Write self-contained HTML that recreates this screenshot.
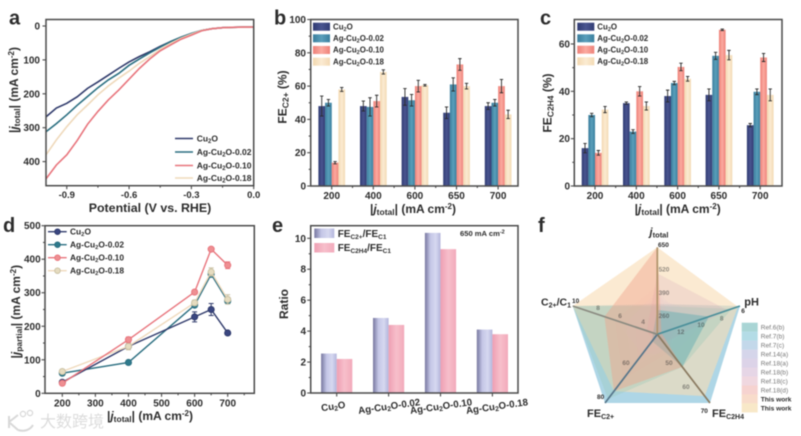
<!DOCTYPE html>
<html lang="en"><head><meta charset="utf-8"><title>Ag-Cu2O electrocatalysis figure</title>
<style>
html,body{margin:0;padding:0;background:#fff;width:801px;height:436px;overflow:hidden}
svg{display:block;filter:blur(0.6px)}
text{font-family:"Liberation Sans","Noto Sans CJK SC",sans-serif;font-weight:bold;fill:#2c2c2c}
</style></head><body>
<svg id="fig" width="801" height="436" viewBox="0 0 801 436" xmlns="http://www.w3.org/2000/svg">
<defs>
<linearGradient id="g0"><stop offset="0" stop-color="#2f3a72"/><stop offset=".5" stop-color="#4a5590"/><stop offset="1" stop-color="#323d75"/></linearGradient>
<linearGradient id="g1"><stop offset="0" stop-color="#3a7d9c"/><stop offset=".5" stop-color="#5a9fbb"/><stop offset="1" stop-color="#3a7f9e"/></linearGradient>
<linearGradient id="g2"><stop offset="0" stop-color="#ee8078"/><stop offset=".5" stop-color="#fbaaa0"/><stop offset="1" stop-color="#ee8279"/></linearGradient>
<linearGradient id="g3"><stop offset="0" stop-color="#f3d8b0"/><stop offset=".5" stop-color="#fbebd2"/><stop offset="1" stop-color="#f3dab4"/></linearGradient>
<linearGradient id="e0"><stop offset="0" stop-color="#77779f"/><stop offset=".35" stop-color="#c4c6e6"/><stop offset=".7" stop-color="#d6d8f0"/><stop offset="1" stop-color="#b4b6dc"/></linearGradient>
<linearGradient id="e1"><stop offset="0" stop-color="#ee9fb3"/><stop offset=".5" stop-color="#f7bfcb"/><stop offset="1" stop-color="#f2aabb"/></linearGradient>
</defs>
<g id="layer"></g>
</svg>
<script>
// ---------- shared ----------
const seriesNames = ['Cu2O', 'Ag-Cu2O-0.02', 'Ag-Cu2O-0.10', 'Ag-Cu2O-0.18'];
// ---------- panel a ----------
const potentials = [-1, -0.95, -0.9, -0.85, -0.8, -0.75, -0.7, -0.65, -0.6, -0.55, -0.5, -0.45, -0.4, -0.35, -0.3, -0.25, -0.2, -0.15, -0.1, -0.05, 0];
const aCu2O = [268, 242, 228, 209, 184, 165, 145, 125, 106, 90, 76, 60, 46, 33, 22, 13, 8, 5, 4, 3, 3];
const aAg02 = [312, 288, 262, 234, 208, 182, 159, 140, 116, 97, 79, 62, 46, 33, 22, 13, 8, 5, 4, 3, 3];
const aAg10 = [451, 410, 380, 338, 290, 252, 218, 189, 157, 125, 97, 73, 56, 39, 27, 14, 8, 5, 4, 3, 3];
const aAg18 = [380, 336, 297, 262, 233, 203, 177, 154, 133, 110, 90, 69, 51, 36, 24, 13, 8, 5, 4, 3, 3];
const aXTicks = [-0.9, -0.6, -0.3, 0];
const aXTickLabels = ['-0.9', '-0.6', '-0.3', '0.0'];
const aYTicks = [0, 100, 200, 300, 400];
// ---------- panel b ----------
const currents = ['200', '400', '600', '650', '700'];
const bValues = [[48, 48, 53.5, 44, 48], [50, 47.5, 51.5, 61, 50], [14, 51, 60, 73, 60], [58, 68.5, 60.5, 60, 43]];
const bErrors = [[6, 3, 5, 3.5, 2], [2, 5.5, 3.5, 4, 2], [0.7, 3.5, 3.5, 3.5, 4], [1.2, 1.3, 0.5, 1.7, 2.5]];
const bYTicks = [0, 20, 40, 60, 80, 100];
// ---------- panel c ----------
const cValues = [[16, 35, 38, 38.5, 25.7], [30, 23, 43.5, 55, 39.8], [14, 40, 50.3, 66, 54.3], [32.3, 33.8, 45.3, 55.3, 38.5]];
const cErrors = [[2, 0.5, 2.5, 2.5, 0.7], [0.7, 0.8, 0.7, 1.5, 1.2], [1, 2, 1.6, 0.3, 1.7], [1.3, 1.7, 1, 2, 2.5]];
const cYTicks = [0, 20, 40, 60];
// ---------- panel d ----------
const dX = [200, 400, 600, 650, 700];
const dValues = [[33, 140, 228, 250, 180], [60, 92, 263, 355, 275], [30, 160, 302, 430, 382], [65, 140, 270, 362, 280]];
const dErrors = [[3, 5, 15, 18, 4], [3, 5, 6, 8, 6], [3, 8, 6, 4, 10], [3, 10, 8, 12, 14]];
const dXTicks = [200, 300, 400, 500, 600, 700];
const dYTicks = [0, 100, 200, 300, 400, 500];
// ---------- panel e ----------
const eCategories = ['Cu2O', 'Ag-Cu2O-0.02', 'Ag-Cu2O-0.10', 'Ag-Cu2O-0.18'];
const eC2 = [2.55, 4.85, 10.35, 4.1];
const eC2H4 = [2.2, 4.4, 9.3, 3.8];
const eYTicks = [0, 2, 4, 6, 8, 10];
// ---------- panel f: axes are j, pH, FE C2H4, FE C2+, C2+/C1 ----------
const radarInner = [130, 14, 30, 45, 2];
const radarOuter = [650, 6, 70, 80, 10];
const radarNames = ['Ref.6(b)', 'Ref.7(b)', 'Ref.7(c)', 'Ref.14(a)', 'Ref.18(a)', 'Ref.18(b)', 'Ref.18(c)', 'Ref.18(d)', 'This work', 'This work'];
const radarRef6b = [310, 6, 70, 80, 10];
const radarRef7b = [276, 9, 49, 48.5, 2.4];
const radarRef7c = [300, 6.8, 49, 78, 10];
const radarRef14a = [345, 9, 42, 55, 6];
const radarRef18a = [494, 7.2, 35, 48, 3];
const radarRef18b = [390, 11, 38, 62, 5];
const radarRef18c = [300, 12, 36, 58, 4];
const radarRef18d = [420, 12.5, 40, 68, 6];
const radarWorkA = [650, 13.6, 49, 74, 7];
const radarWorkB = [650, 6.2, 66, 74, 10];
const radarTicks = [['520', '390', '260'], ['12', '10', '8'], ['60', '50'], ['60'], ['8', '6', '4']];

const NS = 'http://www.w3.org/2000/svg';
const root = document.getElementById('layer');
function make(tag, attrs, name, parent) {
  const el = document.createElementNS(NS, tag);
  for (const k in attrs) el.setAttribute(k, attrs[k]);
  
  
  (parent || root).appendChild(el);
  return el;
}
function chem(s) {
  return s.replace('Cu2O', 'Cu<tspan dy="1.5" font-size="70%">2</tspan><tspan dy="-1.5">O</tspan>');
}
function label(x, y, html, size, anchor, name, rot, parent) {
  const attrs = { x: x, y: y, 'font-size': size, 'text-anchor': anchor || 'start' };
  if (rot) attrs.transform = 'rotate(' + rot + ' ' + x + ' ' + y + ')';
  const t = make('text', attrs, name, parent);
  t.innerHTML = html;
  return t;
}
function frame(x0, x1, y0, y1, name) {
  make('rect', { x: x0, y: y0, width: x1 - x0, height: y1 - y0, fill: 'none', stroke: '#4a4a4a', 'stroke-width': 1.5 }, name);
}
function tick(x1, y1, x2, y2, name) {
  make('line', { x1: x1, y1: y1, x2: x2, y2: y2, stroke: '#4a4a4a', 'stroke-width': 1.1 }, name);
}
function yAxis(ticks, sy, x0, right, name, minor) {
  ticks.forEach((v, i) => {
    tick(x0, sy(v), x0 - 3.5, sy(v), name + '-tick');
    label(right, sy(v) + 3.5, String(v), 10, 'end', name + '-label');
    if (minor && i < ticks.length - 1) tick(x0, sy((v + ticks[i + 1]) / 2), x0 - 2, sy((v + ticks[i + 1]) / 2), name + '-minor-tick');
  });
}
const barColors = ['url(#g0)', 'url(#g1)', 'url(#g2)', 'url(#g3)'];
const lineColors = ['#2f3a6b', '#2a6e80', '#e8747c', '#efd9bb'];

// ---------- panel a draw ----------
(function () {
  const x0 = 46, x1 = 253.7, y0 = 19.5, y1 = 185.7;
  const sx = v => 253.7 + v * 207.7;
  const sy = v => 26 + v * 0.339;
  [aCu2O, aAg02, aAg18, aAg10].forEach((vals, i) => {
    const order = [0, 1, 3, 2][i];
    const pts = potentials.map((p, k) => sx(p) + ',' + sy(vals[k])).join(' ');
    make('polyline', { points: pts, fill: 'none', stroke: lineColors[order], 'stroke-width': 1.6 }, 'lsv-curve');
  });
  frame(x0, x1, y0, y1, 'lsv-plot-frame');
  aXTicks.forEach((v, i) => {
    tick(sx(v), y1, sx(v), y1 + 3.5, 'x-tick');
    label(sx(v), 198, aXTickLabels[i], 9.5, 'middle', 'x-tick-label');
    if (v < 0) tick(sx(v + 0.15), y1, sx(v + 0.15), y1 + 2, 'x-minor-tick');
  });
  yAxis(aYTicks, sy, x0, 40, 'y-tick', false);
  label(150, 212, 'Potential (V vs. RHE)', 12.4, 'middle', 'x-axis-title');
  label(18, 90, '|<tspan font-style="italic">j</tspan><tspan dy="2" font-size="8.5">total</tspan><tspan dy="-2">| (mA cm</tspan><tspan dy="-4" font-size="8">-2</tspan><tspan dy="4">)</tspan>', 12, 'middle', 'y-axis-title', -90);
  const ly = [138.5, 152, 165.5, 178];
  seriesNames.forEach((n, i) => {
    make('line', { x1: 175, x2: 193, y1: ly[i], y2: ly[i], stroke: lineColors[i], 'stroke-width': 1.6 }, 'legend-line');
    label(196.7, ly[i] + 2.8, chem(n), 8.5, 'start', 'legend-entry');
  });
  label(9, 24.5, 'a', 20, 'start', 'panel-label-a');
})();

// ---------- grouped bars b, c ----------
function groupedBars(cfg) {
  const { x0, x1, y0, y1, c0, step, vals, errs, sy, yTicks, right } = cfg;
  vals.forEach((series, s) => {
    series.forEach((v, c) => {
      const cx = c0 + c * step;
      const bx = cx - 13.3 + s * 6.67;
      make('rect', { x: bx, y: sy(v), width: 6.67, height: y1 - sy(v), fill: barColors[s] }, 'bar-' + seriesNames[s].toLowerCase());
      const mid = bx + 3.33, t = sy(v + errs[s][c]), b = sy(v - errs[s][c]);
      make('path', { d: 'M' + mid + ' ' + t + 'V' + b + 'M' + (mid - 1.7) + ' ' + t + 'H' + (mid + 1.7) + 'M' + (mid - 1.7) + ' ' + b + 'H' + (mid + 1.7), fill: 'none', stroke: '#2a2a2a', 'stroke-width': 0.9 }, 'error-bar');
    });
  });
  frame(x0, x1, y0, y1, 'bar-plot-frame');
  currents.forEach((lab, c) => {
    const cx = c0 + c * step;
    tick(cx, y1, cx, y1 + 3.5, 'x-tick');
    label(cx, 199, lab, 10, 'middle', 'x-tick-label');
    if (c < currents.length - 1) tick(cx + step / 2, y1, cx + step / 2, y1 + 2, 'x-minor-tick');
  });
  yAxis(yTicks, sy, x0, right, 'y-tick', true);
  const ly = cfg.ly;
  seriesNames.forEach((n, i) => {
    make('rect', { x: cfg.lx, y: ly[i] - 4, width: 17, height: 8, fill: barColors[i] }, 'legend-swatch');
    label(cfg.lx + 20, ly[i] + 2.6, chem(n), 7.9, 'start', 'legend-entry');
  });
}
const totalLabel = '|<tspan font-style="italic">j</tspan><tspan dy="2" font-size="8.5">total</tspan><tspan dy="-2">| (mA cm</tspan><tspan dy="-4" font-size="8">-2</tspan><tspan dy="4">)</tspan>';
groupedBars({ x0: 310.7, x1: 518, y0: 19.5, y1: 186, c0: 331.7, step: 41.6, vals: bValues, errs: bErrors, sy: v => 186 - v * 1.665, yTicks: bYTicks, right: 306, lx: 313, ly: [26.7, 38.3, 50, 61.7] });
label(413, 213, totalLabel, 12, 'middle', 'x-axis-title');
label(286.7, 97, 'FE<tspan dy="2" font-size="8.5">C2+</tspan><tspan dy="-2"> (%)</tspan>', 12, 'middle', 'y-axis-title', -90);
label(274, 24.5, 'b', 20, 'start', 'panel-label-b');
groupedBars({ x0: 574.3, x1: 782, y0: 19.5, y1: 186, c0: 595, step: 41.3, vals: cValues, errs: cErrors, sy: v => 186 - v * 2.367, yTicks: cYTicks, right: 570, lx: 577.3, ly: [26.7, 38.3, 49.7, 61.3] });
label(677.7, 213, totalLabel, 12, 'middle', 'x-axis-title');
label(551.7, 103, 'FE<tspan dy="2" font-size="8.5">C2H4</tspan><tspan dy="-2"> (%)</tspan>', 12, 'middle', 'y-axis-title', -90);
label(540, 24.5, 'c', 20, 'start', 'panel-label-c');

// ---------- panel d draw ----------
(function () {
  const x0 = 45, x1 = 254.3, y0 = 225.7, y1 = 393.3;
  const sx = v => 62.3 + (v - 200) * 0.3308;
  const sy = v => 393.3 - v * 0.3352;
  const dotFill = ['#3a4680', '#2f7a8c', '#ee8f92', '#e6dcc0'];
  const dotEdge = ['#2f3a6b', '#2a6e80', '#e8747c', '#c9c0a2'];
  [1, 0, 3, 2].forEach(s => {
    const pts = dX.map((v, k) => sx(v) + ',' + sy(dValues[s][k])).join(' ');
    make('polyline', { points: pts, fill: 'none', stroke: lineColors[s], 'stroke-width': 1.4 }, 'series-line-' + seriesNames[s].toLowerCase());
    dX.forEach((v, k) => {
      const cx = sx(v), t = sy(dValues[s][k] + dErrors[s][k]), b = sy(dValues[s][k] - dErrors[s][k]);
      make('path', { d: 'M' + cx + ' ' + t + 'V' + b + 'M' + (cx - 2.5) + ' ' + t + 'H' + (cx + 2.5) + 'M' + (cx - 2.5) + ' ' + b + 'H' + (cx + 2.5), fill: 'none', stroke: dotEdge[s], 'stroke-width': 1 }, 'error-bar');
      make('circle', { cx: cx, cy: sy(dValues[s][k]), r: 3.1, fill: dotFill[s], stroke: dotEdge[s], 'stroke-width': 0.9 }, 'data-point');
    });
  });
  frame(x0, x1, y0, y1, 'partial-plot-frame');
  dXTicks.forEach(v => {
    tick(sx(v), y1, sx(v), y1 + 3.5, 'x-tick');
    label(sx(v), 406.7, String(v), 10, 'middle', 'x-tick-label');
    tick(sx(v + 50), y1, sx(v + 50), y1 + 2, 'x-minor-tick');
  });
  yAxis(dYTicks, sy, x0, 40.7, 'y-tick', true);
  label(150, 420, totalLabel, 12, 'middle', 'x-axis-title');
  label(20, 311.7, '|<tspan font-style="italic">j</tspan><tspan dy="2" font-size="8.5">partial</tspan><tspan dy="-2">| (mA cm</tspan><tspan dy="-4" font-size="8">-2</tspan><tspan dy="4">)</tspan>', 12, 'middle', 'y-axis-title', -90);
  const ly = [231.7, 244.7, 257.7, 270.7];
  seriesNames.forEach((n, i) => {
    make('line', { x1: 48, x2: 66.7, y1: ly[i], y2: ly[i], stroke: lineColors[i], 'stroke-width': 1.3 }, 'legend-line');
    make('circle', { cx: 57.5, cy: ly[i], r: 2.8, fill: dotFill[i], stroke: dotEdge[i], 'stroke-width': 0.9 }, 'legend-marker');
    label(70, ly[i] + 2.8, chem(n), 8.4, 'start', 'legend-entry');
  });
  label(3, 232, 'd', 20, 'start', 'panel-label-d');
})();

// ---------- panel e draw ----------
(function () {
  const x0 = 310.7, x1 = 518, y0 = 225.7, y1 = 393;
  const sy = v => 393 - v * 15.47;
  const centers = k => 336.7 + k * 51.9;
  eCategories.forEach((c, k) => {
    const cx = centers(k);
    make('rect', { x: cx - 15.6, y: sy(eC2[k]), width: 15.6, height: y1 - sy(eC2[k]), fill: 'url(#e0)' }, 'bar-c2-ratio');
    make('rect', { x: cx, y: sy(eC2H4[k]), width: 15.6, height: y1 - sy(eC2H4[k]), fill: 'url(#e1)' }, 'bar-c2h4-ratio');
    tick(cx, y1, cx, y1 + 3.5, 'x-tick');
    const lx = centers(k) - (k === 0 ? 3 : k === 1 ? -1 : k === 2 ? -1 : -5);
    label(lx, 409.5, chem(c), 9.7, 'middle', 'x-tick-label', -8);
  });
  frame(x0, x1, y0, y1, 'ratio-plot-frame');
  yAxis(eYTicks, sy, x0, 306, 'y-tick', true);
  label(288, 304, 'Ratio', 12, 'middle', 'y-axis-title', -90);
  make('rect', { x: 314.3, y: 228.5, width: 20, height: 9.5, fill: 'url(#e0)' }, 'legend-swatch');
  make('rect', { x: 314.3, y: 243, width: 20, height: 9.5, fill: 'url(#e1)' }, 'legend-swatch');
  label(337.7, 237, 'FE<tspan dy="2" font-size="6.5">C2+</tspan><tspan dy="-2">/FE</tspan><tspan dy="2" font-size="6.5">C1</tspan>', 10, 'start', 'legend-entry');
  label(337.7, 251, 'FE<tspan dy="2" font-size="6.5">C2H4</tspan><tspan dy="-2">/FE</tspan><tspan dy="2" font-size="6.5">C1</tspan>', 10, 'start', 'legend-entry');
  label(460, 236, '650 mA cm<tspan dy="-2.5" font-size="5.5">-2</tspan>', 7.6, 'start', 'current-density-note');
  label(272, 232, 'e', 20, 'start', 'panel-label-e');
})();

// ---------- panel f draw ----------
(function () {
  const cx = 657.3, cy = 334.3;
  const ends = [[657.3, 247.3], [740, 306], [710, 403], [605, 403], [572.7, 306]];
  const frac = (a, v) => (v - radarInner[a]) / (radarOuter[a] - radarInner[a]);
  const pt = (a, v) => {
    const f = frac(a, v);
    return [cx + (ends[a][0] - cx) * f, cy + (ends[a][1] - cy) * f];
  };
  const series = [radarRef6b, radarWorkB, radarRef7c, radarRef14a, radarRef18b, radarRef18c, radarRef18d, radarRef18a, radarRef7b, radarWorkA];
  const fills = ['#aed6e6', '#f9dcb4', '#9cc8b8', '#c9c9e4', '#d8c8e0', '#e8c0d0', '#f0b8b0', '#d8a8b8', '#6fb0b4', '#f0a088'];
  const opac = [1, 0.6, 0.35, 0.08, 0.08, 0.08, 0.08, 0.25, 0.55, 0.42];
  series.forEach((vals, i) => {
    const pts = vals.map((v, a) => pt(a, v).join(',')).join(' ');
    make('polygon', { points: pts, fill: fills[i], 'fill-opacity': opac[i] }, 'radar-polygon');
  });
  const axisColors = ['#b0936a', '#4a8f9a', '#8a7a60', '#55758a', '#8a8a80'];
  ends.forEach((e, a) => {
    make('line', { x1: cx, y1: cy, x2: e[0], y2: e[1], stroke: axisColors[a], 'stroke-width': 1.7 }, 'radar-axis');
  });
  const tickSpots = [[[664, 271.5], [664, 295], [664, 318]], [[680.7, 334], [701, 327], [721.7, 320.7]], [[686, 389], [669, 365]], [[626, 365]], [[598, 310], [620, 318], [643, 324]]];
  radarTicks.forEach((labs, a) => {
    labs.forEach((t, i) => {
      const t1 = label(tickSpots[a][i][0], tickSpots[a][i][1], t, 6.5, 'middle', 'radar-tick-label');
      t1.setAttribute('fill-opacity', '0.5');
    });
  });
  label(658, 247, '650', 6.5, 'start', 'radar-max-j');
  label(743, 313, '6', 6.5, 'middle', 'radar-max-ph');
  label(572, 303, '10', 6.5, 'start', 'radar-max-ratio');
  label(597, 399, '80', 6.5, 'start', 'radar-max-c2');
  label(700.7, 413, '70', 6.5, 'start', 'radar-max-c2h4');
  label(659, 235.7, '<tspan font-style="italic">j</tspan><tspan dy="2" font-size="7.5">total</tspan>', 11, 'middle', 'radar-axis-title-j');
  label(744.3, 305.7, 'pH', 11, 'start', 'radar-axis-title-ph');
  label(541, 305.7, 'C<tspan dy="2" font-size="7">2+</tspan><tspan dy="-2">/C</tspan><tspan dy="2" font-size="7">1</tspan>', 10.5, 'start', 'radar-axis-title-ratio');
  label(587, 417, 'FE<tspan dy="2" font-size="7">C2+</tspan>', 11, 'start', 'radar-axis-title-c2');
  label(712, 417, 'FE<tspan dy="2" font-size="7">C2H4</tspan>', 11, 'start', 'radar-axis-title-c2h4');
  const legColors = ['#a9d5d5', '#b3dce6', '#c3d8ea', '#d5d5ea', '#dcd3e8', '#e6d6e6', '#f0d8e0', '#f6d3d0', '#f8dccb', '#f8e8c8'];
  radarNames.forEach((n, i) => {
    const y = 322.7 + i * 8.96;
    make('rect', { x: 741.7, y: y, width: 16, height: 9.1, fill: legColors[i] }, 'legend-swatch');
    const t = label(760.7, y + 7, n, 6.6, 'start', 'legend-entry');
    if (i < 8) { t.setAttribute('style', 'font-weight:normal;fill:#777'); }
  });
  label(538, 232, 'f', 20, 'start', 'panel-label-f');
})();

// ---------- watermark ----------
(function () {
  make('path', { d: 'M9 428V416M9 422L18 415M10 423L18 430M18 430C24 432 30 430 33 425', fill: 'none', stroke: '#d8d8d8', 'stroke-width': 2 }, 'watermark-logo');
  make('circle', { cx: 23, cy: 414, r: 2.6, fill: 'none', stroke: '#d8d8d8', 'stroke-width': 1.2 }, 'watermark-logo-dot');
  make('circle', { cx: 30, cy: 413, r: 2.6, fill: 'none', stroke: '#d8d8d8', 'stroke-width': 1.2 }, 'watermark-logo-dot');
  const w = label(40, 427, '大数跨境', 16, 'start', 'watermark-text');
  w.setAttribute('style', 'fill:#dcdcdc;font-weight:normal');
})();
</script>
</body></html>
